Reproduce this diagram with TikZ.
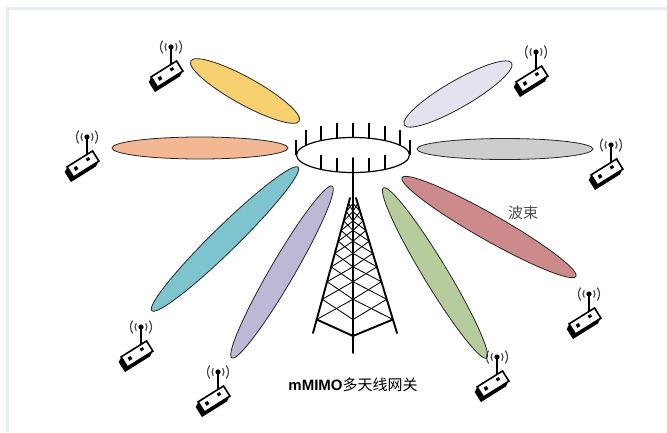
\documentclass[tikz,border=0pt]{standalone}
\usepackage{fontspec}
\setsansfont{Liberation Sans}
\newfontfamily\cjk{Noto Sans CJK SC}
\usetikzlibrary{shapes.geometric,calc}

\definecolor{framecol}{HTML}{E8EDF5}
\definecolor{beamyellow}{HTML}{F6CF6F}
\definecolor{beampeach}{HTML}{F2B894}
\definecolor{beamteal}{HTML}{7EC4CF}
\definecolor{beamlilac}{HTML}{BEB7D6}
\definecolor{beamgreen}{HTML}{B7CC9C}
\definecolor{beamrose}{HTML}{CD8A8A}
\definecolor{beamgray}{HTML}{CDCDCD}
\definecolor{beampale}{HTML}{E6E1EE}

\begin{document}
\begin{tikzpicture}[
  x=1pt, y=-1pt,
  beam/.style={draw=black!85, line width=0.8pt, ellipse, inner sep=0pt},
  tower/.style={line width=1.9pt, line cap=round},
  lattice/.style={line width=0.85pt},
  spike/.style={line width=1.3pt},
  wave/.style={line width=1.1pt, black!75},
  ue/.pic={
    % radio waves around the tip
    \foreach \r in {6,10.5}{
      \draw[wave] (142:\r) arc[start angle=142, end angle=218, radius=\r];
      \draw[wave] (-38:\r) arc[start angle=-38, end angle=38, radius=\r];
    }
    \draw[line width=1.4pt] (0,0) -- (0,24);
    \fill (0,0) circle[radius=2.6];
    % box with its dark side
    \foreach \s in {1,...,5}
      \fill[shift={(-4-0.5*\s,27+\s)}, rotate=32] (-15,-6) rectangle (15,6);
    \filldraw[fill=white, line width=1.6pt, shift={(-4,27)}, rotate=32] (-15,-6) rectangle (15,6);
    \fill[shift={(-4,27)}, rotate=32] (-10,-1.8) rectangle (-6.5,1.8) (5,-3) rectangle (8.5,0);
  }
]
\useasboundingbox (0,0) rectangle (667,432);
\draw[framecol, line width=2.5pt] (7.5,432) -- (7.5,8.5) -- (667,8.5);

% beams
\node[beam, fill=beamyellow, minimum width=124pt, minimum height=27pt, rotate=-29] (b1) at (245,91) {};
\node[beam, fill=beampeach, minimum width=176pt, minimum height=22pt] (b2) at (200,148) {};
\node[beam, fill=beamteal, minimum width=205pt, minimum height=25pt, rotate=44.4] (b3) at (225,239) {};
\node[beam, fill=beamlilac, minimum width=199pt, minimum height=24pt, rotate=59.7] (b4) at (282,272) {};
\node[beam, fill=beamgreen, minimum width=199pt, minimum height=24pt, rotate=-58.8] (b5) at (435,273) {};
\node[beam, fill=beamrose, minimum width=200pt, minimum height=26pt, rotate=-29.6] (b6) at (489,227) {};
\node[beam, fill=beamgray, minimum width=176pt, minimum height=21pt] (b7) at (505,149) {};
\node[beam, fill=beampale, minimum width=124pt, minimum height=27pt, rotate=30] (b8) at (458,94) {};

% antenna ring
\node[draw, ellipse, line width=1.2pt, minimum width=113pt, minimum height=35pt, inner sep=0pt] (ring) at (353,155) {};
\foreach \dx in {-47,-32,-16,0,16,32,47}{
  \pgfmathsetmacro\dy{17.5*sqrt(1-((\dx)/56.5)^2)}
  \draw[spike] (353+\dx,155-\dy) -- ++(0,-15);
}
\foreach \dx in {-32,-16,16,32}{
  \pgfmathsetmacro\dy{17.5*sqrt(1-((\dx)/56.5)^2)}
  \draw[spike] (353+\dx,155+\dy) -- ++(0,-14);
}
\draw[spike] (ring.west) -- ++(0,-15);
\draw[spike] (ring.east) -- ++(0,-15);

% tower
\coordinate (tl) at (350,198);
\coordinate (bl) at (313,333);
\coordinate (tr) at (356,198);
\coordinate (br) at (397,333);
\coordinate (tc) at (353,198);
\coordinate (bc) at (353,333);
\foreach \a/\b in {0.04/0.1,0.1/0.17,0.17/0.24,0.24/0.32,0.32/0.41,0.41/0.51,0.51/0.62,0.62/0.75,0.75/0.9}{
  \draw[lattice] ($(tl)!\a!(bl)$) -- ($(tc)!\b!(bc)$);
  \draw[lattice] ($(tc)!\a!(bc)$) -- ($(tl)!\b!(bl)$);
  \draw[lattice] ($(tr)!\a!(br)$) -- ($(tc)!\b!(bc)$);
  \draw[lattice] ($(tc)!\a!(bc)$) -- ($(tr)!\b!(br)$);
}
\draw[tower] (tl) -- (bl);
\draw[tower] (tr) -- (br);
\draw[tower] (353,158) -- (353,353);
\draw[tower] ($(tl)!0.9!(bl)$) -- (353,336) -- ($(tr)!0.9!(br)$);

% terminals
\pic (ue1) at (171,47) {ue};
\pic (ue2) at (87,137) {ue};
\pic (ue3) at (141,327) {ue};
\pic (ue4) at (218,372) {ue};
\pic (ue5) at (536,52) {ue};
\pic (ue6) at (611,145) {ue};
\pic (ue7) at (589,294) {ue};
\pic (ue8) at (497,357) {ue};

% labels
\node[text=black!70, font=\cjk\fontsize{15}{17}\selectfont] (beamtxt) at (523,213) {波束};
\node[font=\fontsize{15}{17}\selectfont] (gwtxt) at (353,385) {\textsf{\bfseries mMIMO}{\cjk 多天线网关}};
\end{tikzpicture}
\end{document}
